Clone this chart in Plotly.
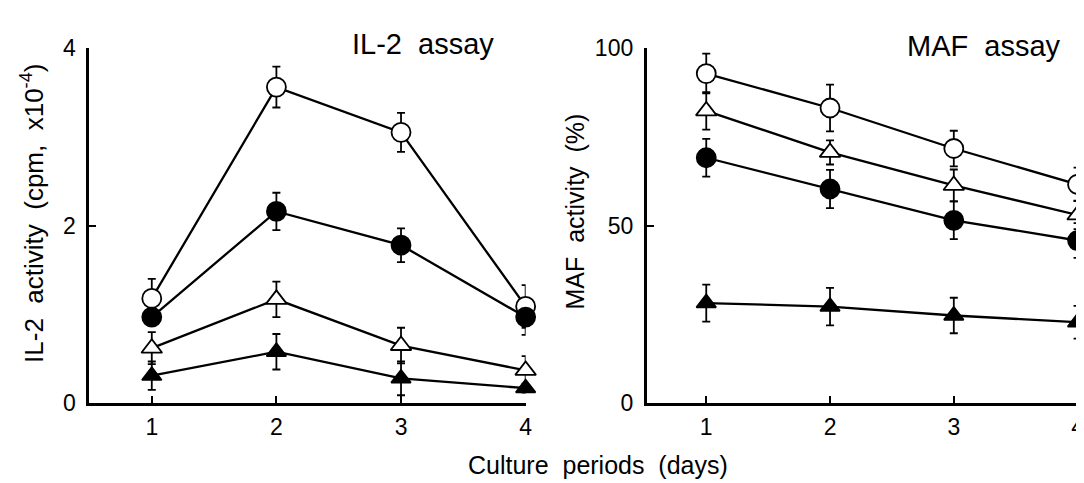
import plotly.graph_objects as go

# ---------------- data ----------------
days = [1, 2, 3, 4]

# IL-2 assay (cpm x10^-4)
il2_open_circle = [1.18, 3.56, 3.05, 1.09]
il2_open_circle_err = [0.22, 0.23, 0.22, 0.24]
il2_filled_circle = [0.97, 2.16, 1.78, 0.97]
il2_filled_circle_err = [0.08, 0.21, 0.19, 0.20]
il2_open_triangle = [0.62, 1.17, 0.65, 0.37]
il2_open_triangle_err = [0.18, 0.20, 0.20, 0.16]
il2_filled_triangle = [0.31, 0.58, 0.28, 0.17]
il2_filled_triangle_err = [0.16, 0.20, 0.19, 0.05]

# MAF assay (%)
maf_open_circle = [92.8, 83.1, 71.7, 61.6]
maf_open_circle_err = [5.6, 6.6, 5.0, 4.7]
maf_open_triangle = [82.3, 70.6, 61.3, 53.0]
maf_open_triangle_err = [5.3, 3.4, 4.5, 4.0]
maf_filled_circle = [69.1, 60.3, 51.5, 45.8]
maf_filled_circle_err = [5.3, 5.4, 5.3, 4.9]
maf_filled_triangle = [28.2, 27.2, 24.7, 22.8]
maf_filled_triangle_err = [5.2, 5.3, 5.0, 4.6]

il2_yticks = [0, 2, 4]
maf_yticks = [0, 50, 100]

FONT = "Liberation Sans, Arial, Helvetica, sans-serif"

# ---------------- figure ----------------
fig = go.Figure()

styles = {
    "open_circle": dict(symbol="circle", color="white", size=19),
    "filled_circle": dict(symbol="circle", color="black", size=19),
    "open_triangle": dict(symbol="triangle-up", color="white", size=18),
    "filled_triangle": dict(symbol="triangle-up", color="black", size=17),
}

left = [
    ("open_circle", il2_open_circle, il2_open_circle_err),
    ("filled_circle", il2_filled_circle, il2_filled_circle_err),
    ("open_triangle", il2_open_triangle, il2_open_triangle_err),
    ("filled_triangle", il2_filled_triangle, il2_filled_triangle_err),
]
right = [
    ("open_circle", maf_open_circle, maf_open_circle_err),
    ("open_triangle", maf_open_triangle, maf_open_triangle_err),
    ("filled_circle", maf_filled_circle, maf_filled_circle_err),
    ("filled_triangle", maf_filled_triangle, maf_filled_triangle_err),
]

for series, xa, ya in [(left, "x", "y"), (right, "x2", "y2")]:
    # lines + error bars first (below every marker)
    for name, vals, err in series:
        fig.add_trace(go.Scatter(
            x=days, y=vals, xaxis=xa, yaxis=ya, mode="lines",
            line=dict(color="black", width=2.3),
            error_y=dict(type="data", array=err, visible=True,
                         color="black", thickness=1.8, width=4),
            showlegend=False, cliponaxis=False, hoverinfo="skip"))
    # markers on top
    for name, vals, err in series:
        st = styles[name]
        fig.add_trace(go.Scatter(
            x=days, y=vals, xaxis=xa, yaxis=ya, mode="markers",
            marker=dict(symbol=st["symbol"], size=st["size"], color=st["color"],
                        line=dict(color="black", width=1.8)),
            showlegend=False, cliponaxis=False))

W, H = 1084, 483
ybot, ytop = (H - 404) / H, (H - 28.5) / H

axis_common = dict(
    showline=True, linecolor="black", linewidth=3, mirror=False,
    ticks="inside", ticklen=7, tickwidth=2, tickcolor="black",
    showgrid=False, zeroline=False,
    tickfont=dict(family=FONT, size=23, color="black"),
)

fig.update_layout(
    width=W, height=H,
    margin=dict(l=0, r=0, t=0, b=0),
    paper_bgcolor="white", plot_bgcolor="white",
    xaxis=dict(domain=[82 / W, 521 / W], range=[0.5, 4.0],
               tickvals=days, ticktext=[str(d) for d in days],
               anchor="y", ticklabelstandoff=1, **axis_common),
    yaxis=dict(domain=[ybot, ytop], range=[0, 4], tickvals=il2_yticks,
               anchor="x", ticklabelstandoff=6, **axis_common),
    xaxis2=dict(domain=[643 / W, 1.0], range=[0.52, 4.06],
                tickvals=days, ticktext=[str(d) for d in days],
                anchor="y2", ticklabelstandoff=1, **axis_common),
    yaxis2=dict(domain=[ybot, ytop], range=[0, 100], tickvals=maf_yticks,
                anchor="x2", ticklabelstandoff=6, **axis_common),
    font=dict(family=FONT, color="black"),
)

def ann(text, x, y, size, angle=0):
    fig.add_annotation(text=text, x=x / W, y=1 - y / H, xref="paper", yref="paper",
                       showarrow=False, textangle=angle, xanchor="center",
                       yanchor="middle", font=dict(family=FONT, size=size, color="black"))

ann("IL-2  assay", 418, 24, 29)
ann("MAF  assay", 982, 26, 29)
ann("IL-2  activity  (cpm,  x10<sup>-4</sup>)", 24, 203, 26, -90)
ann("MAF  activity  (%)", 571, 201, 25, -90)
ann("Culture  periods  (days)", 594, 469, 25)

fig.write_html("out.html")
